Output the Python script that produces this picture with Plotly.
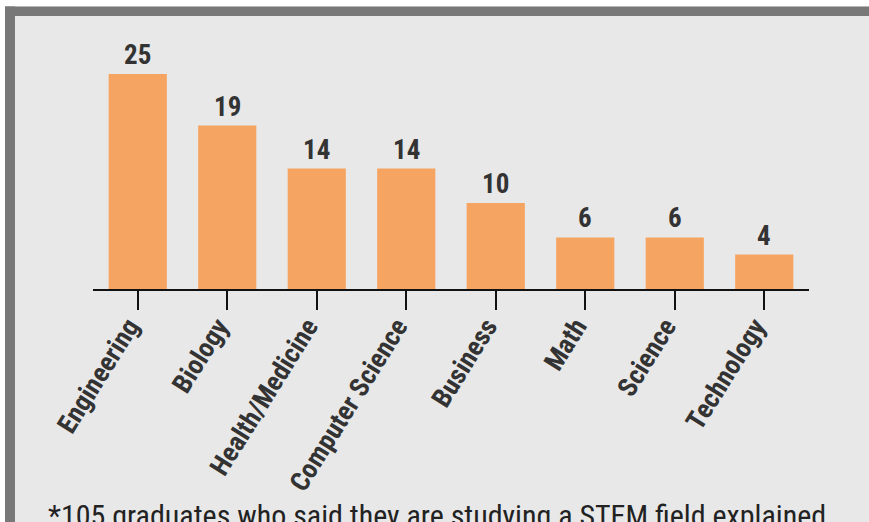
import plotly.graph_objects as go

fields = ["Engineering", "Biology", "Health/Medicine", "Computer Science",
          "Business", "Math", "Science", "Technology"]
counts = [25, 19, 14, 14, 10, 6, 6, 4]
footnote = "*105 graduates who said they are studying a STEM field explained"

W, H = 869, 522
ML, MR, MT, MB = 93, 60, 31, 233
PW, PH = W - ML - MR, H - MT - MB
FONT = "Roboto Condensed, Roboto, sans-serif"


def px_x(p):
    return (p - ML) / PW


def px_y(p):
    return (H - MB - p) / PH


fig = go.Figure()

fig.add_trace(go.Bar(
    x=fields,
    y=counts,
    marker=dict(color="#F6A461", line=dict(width=0)),
    hoverinfo="skip",
))

# value labels above each bar
for f, c in zip(fields, counts):
    fig.add_annotation(
        x=f, y=c, text=f"<b>{c}</b>", showarrow=False,
        yanchor="bottom", yshift=1,
        font=dict(family=FONT, size=27, color="#333333"),
    )

fig.add_annotation(
    xref="paper", yref="paper", x=px_x(46), y=px_y(496),
    xanchor="left", yanchor="top", text=footnote, showarrow=False,
    font=dict(family=FONT, size=30, color="#222222"),
)

# frame: top and left borders
shapes = [
    dict(x0=px_x(-5), x1=px_x(W + 5), y0=px_y(-5), y1=px_y(6.5), color="#FFFFFF"),
    dict(x0=px_x(-5), x1=px_x(5), y0=px_y(-5), y1=px_y(H + 5), color="#FFFFFF"),
    dict(x0=px_x(5), x1=px_x(W + 5), y0=px_y(6.5), y1=px_y(16), color="#787878"),
    dict(x0=px_x(5), x1=px_x(15), y0=px_y(6.5), y1=px_y(H + 5), color="#787878"),
]
for s in shapes:
    fig.add_shape(type="rect", xref="paper", yref="paper",
                  x0=s["x0"], x1=s["x1"], y0=s["y0"], y1=s["y1"],
                  line=dict(width=0), fillcolor=s["color"], layer="above")

fig.update_layout(
    width=W, height=H,
    margin=dict(l=ML, r=MR, t=MT, b=MB),
    paper_bgcolor="#E8E8E8",
    plot_bgcolor="#E8E8E8",
    bargap=0.35,
    showlegend=False,
    xaxis=dict(
        showline=True, linecolor="#111111", linewidth=2,
        ticks="outside", ticklen=19, tickwidth=2, tickcolor="#111111",
        tickangle=-58,
        ticklabelstandoff=-10, ticklabelshift=-9,
        tickfont=dict(family=FONT, size=27, color="#333333"),
        tickprefix="<b>", ticksuffix="</b>",
        showgrid=False,
    ),
    yaxis=dict(range=[0, 30], visible=False, showgrid=False, zeroline=False),
)

# page body margin would push the chart 8px off
fig.write_html("out.html", config={"displayModeBar": False},
               post_script="document.body.style.margin='0';")
